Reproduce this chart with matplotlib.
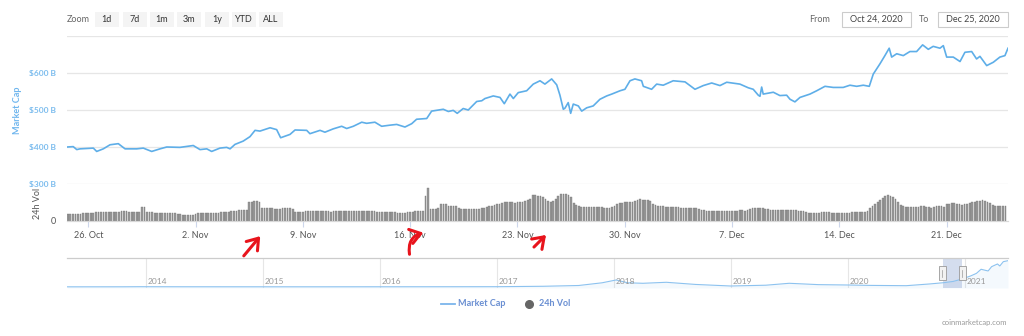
import matplotlib
matplotlib.use('Agg')
import matplotlib.pyplot as plt
import matplotlib.dates as mdates
from matplotlib.patches import Rectangle, FancyArrowPatch
import pandas as pd
import numpy as np

plt.rcParams['font.family'] = ['Lato', 'DejaVu Sans']

# ---------------- data ----------------
start = pd.Timestamp('2020-10-24')
# market cap ($B) at day offsets from 24 Oct 2020 00:00
mcap_day = [0.63, 1.02, 1.25, 1.46, 2.33, 2.55, 2.98, 3.42, 3.96, 4.40, 5.16, 5.59, 6.14, 6.68,
            7.12, 7.98, 8.85, 9.29, 9.73, 10.05, 10.59, 11.03, 11.25, 11.57, 12.11, 12.55, 12.88,
            13.20, 13.86, 14.29, 14.55, 15.16, 15.49, 16.25, 16.46, 17.12, 17.44, 17.98, 18.53,
            18.86, 19.29, 19.84, 20.16, 20.70, 21.14, 21.68, 22.12, 22.66, 23.10, 23.42, 24.08,
            24.40, 25.16, 25.49, 25.81, 26.07, 26.46, 26.79, 27.34, 27.67, 27.88, 28.42, 28.86,
            29.14, 29.51, 29.73, 30.05, 30.60, 31.03, 31.47, 31.79, 32.23, 32.56, 32.77, 32.99,
            33.10, 33.31, 33.47, 33.64, 33.97, 34.19, 34.52, 34.94, 35.38, 35.82, 36.15, 36.69,
            37.01, 37.34, 37.66, 38.10, 38.21, 38.75, 39.08, 39.51, 40.16, 40.93, 41.58, 42.12,
            42.67, 43.21, 43.65, 44.51, 45.06, 45.38, 45.71, 45.82, 45.93, 46.03, 46.69, 47.12,
            47.56, 47.78, 48.10, 48.43, 49.08, 49.52, 50.06, 50.60, 51.25, 51.69, 52.13, 52.56,
            52.95, 53.21, 53.65, 53.97, 54.25, 54.41, 54.74, 55.17, 55.60, 56.04, 56.43, 56.80,
            57.12, 57.56, 57.78, 58.00, 58.43, 58.87, 59.19, 59.63, 59.95, 60.17, 60.61, 61.04,
            61.47, 61.80, 62.00]
mcap_value = [400, 401, 393, 395, 397, 388, 395, 406, 409, 395, 395, 397, 388, 395,
              400, 399, 404, 393, 395, 388, 397, 399, 395, 407, 416, 428, 445,
              443, 452, 447, 425, 434, 446, 445, 436, 445, 440, 449, 456,
              450, 456, 467, 464, 467, 456, 459, 461, 454, 463, 475, 477,
              497, 502, 496, 499, 491, 504, 500, 523, 525, 531, 538, 534,
              517, 543, 531, 547, 552, 570, 579, 570, 584, 568, 540, 502,
              505, 520, 491, 516, 511, 497, 506, 511, 529, 538, 543, 552,
              556, 579, 584, 579, 564, 556, 570, 567, 579, 576, 556, 566,
              573, 566, 575, 570, 560, 556, 540, 537, 562, 543, 548, 539,
              540, 529, 522, 534, 543, 552, 564, 561, 561, 567, 564, 567,
              564, 597, 625, 647, 667, 643, 652, 647, 658, 658, 676, 664,
              672, 667, 674, 643, 643, 631, 656, 658, 638, 645, 620, 629,
              643, 647, 667]

# 24h volume ($B), one bar every 4 hours from 24 Oct 2020 16:00
vol_start = pd.Timestamp('2020-10-24 16:00')
vol_value = [70, 70,
    70, 70, 70, 70, 80, 80,   80, 80, 80, 90, 90, 90,   90, 90, 90, 90, 90, 90,
    90, 100, 100, 100, 90, 90,   90, 90, 90, 140, 140, 90,   90, 90, 80, 80, 80, 80,
    80, 80, 80, 80, 80, 70,   70, 60, 60, 60, 60, 60,   70, 80, 80, 80, 80, 80,
    80, 80, 80, 80, 90, 90,   90, 90, 100, 100, 100, 110,   110, 110, 110, 190, 190, 200,
    200, 190, 130, 130, 130, 130,   130, 120, 120, 120, 130, 130,   130, 130, 120, 90, 90, 90,
    90, 100, 100, 100, 100, 100,   100, 100, 100, 100, 100, 90,   100, 100, 100, 100, 100, 100,
    100, 100, 100, 100, 100, 100,   100, 100, 100, 100, 100, 90,   90, 90, 90, 90, 90, 90,
    90, 80, 80, 80, 80, 90,   90, 90, 100, 100, 100, 100,   250, 330, 120, 120, 120, 130,
    170, 170, 170, 150, 150, 150,   150, 130, 120, 120, 120, 120,   120, 120, 120, 120, 130, 130,
    140, 150, 150, 160, 170, 170,   180, 190, 190, 190, 190, 180,   190, 190, 190, 200, 210, 220,
    260, 260, 250, 250, 240, 220,   200, 190, 200, 220, 250, 270,   270, 270, 260, 240, 180, 160,
    150, 140, 140, 140, 140, 140,   140, 140, 140, 140, 130, 130,   130, 140, 150, 170, 180, 180,
    190, 190, 190, 190, 200, 210,   220, 210, 210, 210, 200, 170,   160, 150, 150, 150, 140, 140,
    140, 140, 140, 140, 130, 130,   130, 130, 130, 130, 130, 120,   110, 110, 100, 100, 100, 100,
    100, 100, 100, 100, 100, 100,   100, 100, 100, 110, 110, 100,   110, 120, 130, 130, 130, 130,
    130, 120, 120, 110, 110, 110,   110, 110, 110, 110, 110, 110,   110, 110, 100, 100, 100, 90,
    80, 80, 80, 80, 80, 90,   90, 90, 90, 80, 80, 80,   80, 80, 80, 80, 80, 90,
    90, 90, 90, 90, 90, 100,   130, 150, 170, 190, 210, 230,   250, 260, 250, 240, 220, 190,
    160, 150, 140, 140, 140, 140,   140, 140, 150, 150, 140, 140,   130, 140, 150, 150, 150, 140,
    170, 170, 180, 180, 170, 170,   160, 170, 170, 180, 190, 190,   200, 200, 210, 200, 190, 180,
    160, 150, 150, 150, 150, 150]

# navigator (whole history), year fraction vs market cap ($B)
nav_year = [2013.33, 2013.8, 2013.95, 2014.3, 2014.9, 2015.5, 2016.0, 2016.5, 2017.0, 2017.4,
            2017.7, 2017.9, 2018.02, 2018.12, 2018.25, 2018.45, 2018.7, 2019.0, 2019.3, 2019.5,
            2019.75, 2020.0, 2020.2, 2020.5, 2020.7, 2020.82, 2020.9, 2020.97, 2021.05, 2021.1,
            2021.14, 2021.2, 2021.23, 2021.28, 2021.3, 2021.33, 2021.37]
nav_value = [2, 5, 14, 8, 5, 4, 7, 10, 15, 60, 140, 420, 713, 420, 370, 474, 250, 88, 170, 370,
             230, 192, 150, 120, 300, 432, 560, 786, 1130, 1400, 1828, 1650, 2100, 2380, 2170,
             2620, 2720]
nav_years = [2014, 2015, 2016, 2017, 2018, 2019, 2020, 2021]

date_ticks = pd.date_range('2020-10-26', '2020-12-21', freq='7D')
price_ticks = [300, 400, 500, 600, 700]
zoom_buttons = ['1d', '7d', '1m', '3m', '1y', 'YTD', 'ALL']
range_from, range_to = 'Oct 24, 2020', 'Dec 25, 2020'

# ---------------- layout helpers ----------------
W, H = 1024, 336
fig = plt.figure(figsize=(W / 100, H / 100), dpi=100)
fig.patch.set_facecolor('white')

def fx(px):
    return px / W

def fy(py):
    return 1 - py / H

def axes_px(x0, y0, x1, y1):
    return fig.add_axes([fx(x0), fy(y1), fx(x1) - fx(x0), (y1 - y0) / H])

BLUE = '#5eaee8'
GRID = '#e6e6e6'

mcap_t = [start + pd.Timedelta(days=d) for d in mcap_day]
vol_t = [vol_start + pd.Timedelta(hours=4 * i) for i in range(len(vol_value))]
xmin = start + pd.Timedelta(days=0.613)
xmax = start + pd.Timedelta(days=62.0)

# ---------------- price panel ----------------
axp = axes_px(67, 36, 1008, 184)
axp.plot(mcap_t, mcap_value, color=BLUE, lw=1.2, solid_joinstyle='round', zorder=3)
axp.set_xlim(xmin, xmax)
axp.set_ylim(300, 700)
axp.set_yticks(price_ticks)
for v in price_ticks:
    axp.axhline(v, color=GRID, lw=0.9, zorder=0)
axp.set_yticklabels([])
axp.tick_params(left=False, bottom=False, labelbottom=False)
for s in axp.spines.values():
    s.set_visible(False)
axp.patch.set_alpha(0)
for v in price_ticks[:-1]:
    axp.text(-0.0115, v, f'${v} B', transform=axp.get_yaxis_transform(), ha='right', va='center',
             fontsize=6, color='#7dbdee', fontweight='bold')
fig.text(fx(17), fy(110), 'Market Cap', rotation=90, ha='center', va='center', fontsize=6.5,
         color='#6fb6ee', fontweight='bold')

# ---------------- volume panel ----------------
axv = axes_px(67, 184, 1008, 221)
axv.bar(vol_t, vol_value, width=0.115, color='#9a9a9a', edgecolor='#6e6e6e', lw=0.25, zorder=2)
axv.set_xlim(xmin, xmax)
axv.set_ylim(0, 370)
axv.set_yticks([])
for s in ['top', 'left', 'right']:
    axv.spines[s].set_visible(False)
axv.spines['bottom'].set_color('#d8d8d8')
axv.spines['bottom'].set_linewidth(0.9)
axv.set_xticks(date_ticks)
axv.set_xticklabels([f'{d.day}. {d.strftime("%b")}' for d in date_ticks])
axv.tick_params(axis='x', length=4, width=0.8, color='#ccd6eb', labelsize=6.5,
                labelcolor='#555555', pad=3)
axv.patch.set_alpha(0)
axv.text(-0.0115, 0, '0', transform=axv.get_yaxis_transform(), ha='right', va='center',
         fontsize=6.5, color='#555555')
fig.text(fx(37), fy(203), '24h Vol', rotation=90, ha='center', va='center', fontsize=6.5,
         color='#555555')

# ---------------- navigator ----------------
axn = axes_px(67, 258, 1008, 288)
axn.fill_between(nav_year, nav_value, -120, color='#7cb5ec', alpha=0.08, lw=0)
axn.plot(nav_year, nav_value, color='#8cc2ef', lw=0.8)
axn.set_xlim(2013.327, 2021.37)
axn.set_ylim(-120, 3000)
axn.set_xticks([])
axn.set_yticks([])
for s in ['left', 'right', 'bottom']:
    axn.spines[s].set_visible(False)
axn.spines['top'].set_color('#cccccc')
axn.spines['top'].set_linewidth(0.9)
for yr in nav_years:
    axn.axvline(yr, color='#e6e6e6', lw=0.8, zorder=0)
    axn.text(yr + 0.02, 0.2, str(yr), transform=axn.get_xaxis_transform(), fontsize=6,
             color='#999999', ha='left', va='center')
sel0 = 2020 + (pd.Timestamp(range_from).dayofyear - 1) / 366
sel1 = 2020 + (pd.Timestamp(range_to).dayofyear - 1) / 366
axn.add_patch(Rectangle((sel0, 0), sel1 - sel0, 1, transform=axn.get_xaxis_transform(),
                        facecolor='#6685c2', alpha=0.28, lw=0, zorder=1))
for sx in (sel0, sel1):
    hp = (sx - 2013.327) / (2021.37 - 2013.327) * 941 + 67
    fig.patches.append(Rectangle((fx(hp - 3.5), fy(280)), fx(7), 14 / H, transform=fig.transFigure,
                                 facecolor='#f2f2f2', edgecolor='#999999', lw=0.6, zorder=5))
    fig.lines.append(plt.Line2D([fx(hp - 0.8), fx(hp - 0.8)], [fy(277), fy(270)],
                                transform=fig.transFigure, color='#999999', lw=0.5, zorder=6))

# ---------------- top controls ----------------
fig.text(fx(67), fy(19.5), 'Zoom', fontsize=6.5, color='#666666', ha='left', va='center')
btn_x = [95, 123, 150, 177, 205, 232, 259]
for bx, lab in zip(btn_x, zoom_buttons):
    fig.patches.append(Rectangle((fx(bx), fy(27)), fx(23.5), 15 / H, transform=fig.transFigure,
                                 facecolor='#f4f4f4', edgecolor='none'))
    fig.text(fx(bx + 11.75), fy(19.5), lab, fontsize=6.5, color='#333333', ha='center', va='center')
fig.text(fx(830), fy(19.5), 'From', fontsize=6.5, color='#666666', ha='right', va='center')
fig.text(fx(929), fy(19.5), 'To', fontsize=6.5, color='#666666', ha='right', va='center')
for bx0, bx1, lab in [(842, 911, range_from), (938, 1008, range_to)]:
    fig.patches.append(Rectangle((fx(bx0), fy(27)), fx(bx1 - bx0), 15 / H, transform=fig.transFigure,
                                 facecolor='white', edgecolor='#cccccc', lw=0.8))
    fig.text(fx((bx0 + bx1) / 2), fy(19.5), lab, fontsize=6.5, color='#444444', ha='center', va='center')

# ---------------- legend ----------------
fig.lines.append(plt.Line2D([fx(441), fx(455)], [fy(304), fy(304)], transform=fig.transFigure,
                            color='#7cb5ec', lw=1.3))
fig.text(fx(458), fy(304), 'Market Cap', fontsize=6.5, color='#6a8fd2', fontweight='bold',
         ha='left', va='center')
fig.lines.append(plt.Line2D([fx(529)], [fy(304)], transform=fig.transFigure, marker='o',
                            markersize=5.5, color='#666666', lw=0))
fig.text(fx(539), fy(304), '24h Vol', fontsize=6.5, color='#6a8fd2', fontweight='bold',
         ha='left', va='center')
fig.text(fx(1007), fy(322), 'coinmarketcap.com', fontsize=5.5, color='#999999', ha='right', va='center')

# ---------------- red hand-drawn arrows ----------------
arrows = [((242, 258), (262, 234), 0.0), ((410, 257), (426, 232), -0.5), ((532, 249), (548, 233), 0.0)]
for (x0, y0), (x1, y1), rad in arrows:
    fig.patches.append(FancyArrowPatch((fx(x0), fy(y0)), (fx(x1), fy(y1)), transform=fig.transFigure,
                                       arrowstyle='->,head_length=5,head_width=3.5',
                                       connectionstyle=f'arc3,rad={rad}',
                                       color='#e8141c', lw=2.2, mutation_scale=1.5, zorder=10))

fig.savefig('out.png', dpi=100, facecolor='white')
